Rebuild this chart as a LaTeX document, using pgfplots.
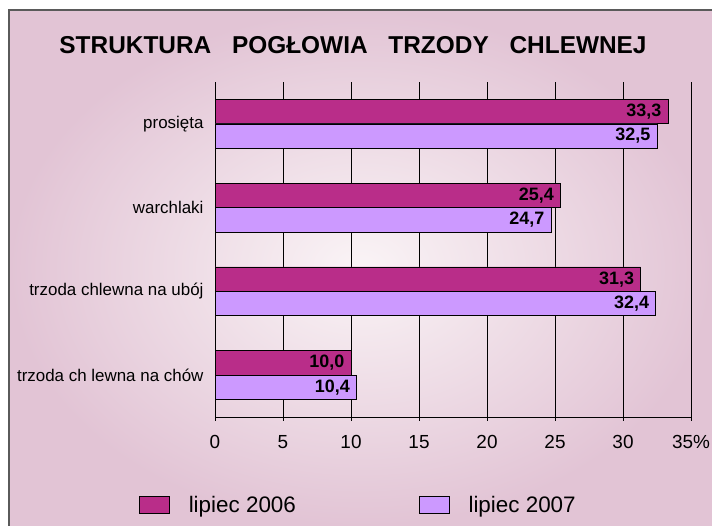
\documentclass[border=0pt]{standalone}
\usepackage{pgfplots}
\pgfplotsset{compat=1.18}
\usepackage{fontspec}
\setmainfont{Liberation Sans}
\definecolor{cA}{RGB}{185,45,137}
\definecolor{cB}{RGB}{204,153,255}
\definecolor{bgIn}{RGB}{250,244,246}
\definecolor{bgOut}{RGB}{226,196,213}
\definecolor{frameC}{RGB}{90,90,90}
\begin{document}
\begin{tikzpicture}[x=1bp,y=1bp]
\useasboundingbox (0,0) rectangle (712,526);
\fill[white] (0,0) rectangle (712,526);
\shade[inner color=bgIn, outer color=bgOut] (9,0) rectangle (712,516);
\draw[frameC, line width=1.2bp] (9,0) -- (9,516) -- (712,516);
\node[font=\fontsize{24.5}{27}\selectfont\bfseries] at (353,481) {STRUKTURA\hspace{14bp} POGŁOWIA\hspace{14bp} TRZODY\hspace{14bp} CHLEWNEJ};
\begin{axis}[
 at={(215bp,109bp)}, anchor=south west,
 scale only axis, width=476bp, height=335bp,
 xbar, bar width=0.29,
 xmin=0, xmax=35, ymin=-0.5, ymax=3.5,
 xtick={0,5,...,35}, xticklabels={0,5,10,15,20,25,30,35\%},
 ytick={0,1,2,3},
 yticklabels={trzoda ch lewna na chów, trzoda chlewna na ubój, warchlaki, prosięta},
 axis lines=left, axis line style={-, black, line width=0.8bp},
 xmajorgrids, grid style={black, line width=0.7bp},
 tick align=outside, major tick length=4bp,
 x tick style={black, line width=0.7bp},
 y tick style={draw=none},
 xticklabel style={font=\fontsize{19}{22}\selectfont, yshift=-11bp},
 yticklabel style={font=\fontsize{17}{20}\selectfont, xshift=-4bp},
 /pgf/number format/assume math mode=true,
 point meta=x,
 nodes near coords={\pgfmathprintnumber[fixed,fixed zerofill,precision=1,use comma]{\pgfplotspointmeta}},
 every node near coord/.append style={anchor=east, font=\fontsize{18}{20}\selectfont\bfseries, xshift=-3bp},
 legend style={at={(axis description cs:-0.166,-0.263)}, anchor=west, draw=none, fill=none,
   legend columns=2, font=\fontsize{22.5}{25}\selectfont,
   /tikz/every odd column/.append style={column sep=17bp},
   /tikz/every even column/.append style={column sep=121bp}},
]
\addplot[fill=cA, draw=black, line width=0.6bp, bar shift=0.146,
  legend image code/.code={\draw[fill=cA, draw=black, line width=0.6bp] (0bp,-8.5bp) rectangle (30bp,8.5bp);}]
  coordinates {(33.3,3) (25.4,2) (31.3,1) (10.0,0)};
\addlegendentry{lipiec 2006}
\addplot[fill=cB, draw=black, line width=0.6bp, bar shift=-0.146,
  legend image code/.code={\draw[fill=cB, draw=black, line width=0.6bp] (0bp,-8.5bp) rectangle (30bp,8.5bp);}]
  coordinates {(32.5,3) (24.7,2) (32.4,1) (10.4,0)};
\addlegendentry{lipiec 2007}
\draw[black, line width=0.8bp] (axis cs:0,-0.5) -- ++(-4bp,0);
\end{axis}
\end{tikzpicture}
\end{document}
